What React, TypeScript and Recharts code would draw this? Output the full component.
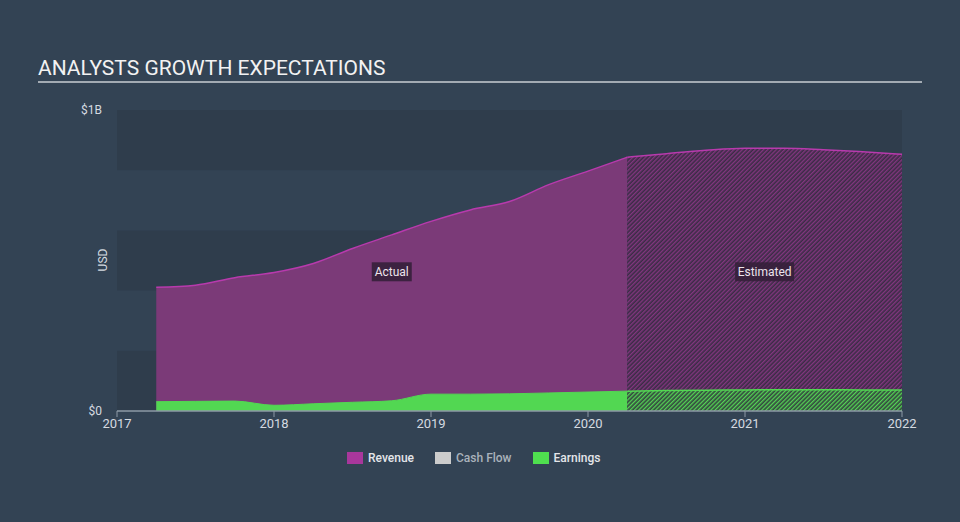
import React from 'react';
import { AreaChart, Area, XAxis, YAxis, ReferenceArea } from 'recharts';

// quarters (decimal years)
const quarters = [
  2017.25, 2017.5, 2017.75, 2018, 2018.25, 2018.5, 2018.75, 2019, 2019.25, 2019.5,
  2019.75, 2020, 2020.25, 2020.5, 2020.75, 2021, 2021.25, 2021.5, 2021.75, 2022,
];

// USD billions
const revenueActual = [
  0.411, 0.418, 0.443, 0.46, 0.49, 0.54, 0.585, 0.63, 0.668, 0.696,
  0.752, 0.797, 0.843, null, null, null, null, null, null, null,
];
const revenueEstimate = [
  null, null, null, null, null, null, null, null, null, null,
  null, null, 0.843, 0.855, 0.866, 0.873, 0.873, 0.868, 0.861, 0.853,
];
const earningsActual = [
  0.031, 0.032, 0.033, 0.019, 0.024, 0.029, 0.034, 0.056, 0.056, 0.057,
  0.06, 0.063, 0.066, null, null, null, null, null, null, null,
];
const earningsEstimate = [
  null, null, null, null, null, null, null, null, null, null,
  null, null, 0.066, 0.068, 0.069, 0.07, 0.071, 0.071, 0.07, 0.07,
];

const yearTicks = [2017, 2018, 2019, 2020, 2021, 2022];
const valueTicks = [0, 1];
const bandRanges = [[0, 0.2], [0.4, 0.6], [0.8, 1]];

const legendItems = [
  { name: 'Revenue', color: '#a8379c', text: '#e4e6ea' },
  { name: 'Cash Flow', color: '#cccccc', text: '#aab2bb' },
  { name: 'Earnings', color: '#4fdf4f', text: '#e4e6ea' },
];

const data = quarters.map((t, i) => ({
  t,
  revA: revenueActual[i],
  revE: revenueEstimate[i],
  earnA: earningsActual[i],
  earnE: earningsEstimate[i],
}));

const PeriodLabel = ({ viewBox, text, w }: any) => {
  const cx = viewBox.x + viewBox.width / 2;
  const cy = viewBox.y + viewBox.height / 2;
  return (
    <g>
      <rect x={cx - w / 2} y={cy - 9.5} width={w} height={19} fill="#35203a" fillOpacity={0.9} />
      <text x={cx} y={cy + 4} textAnchor="middle" fill="#ece4ec" fontSize={12}>
        {text}
      </text>
    </g>
  );
};

export default function App() {
  return (
    <div
      style={{
        position: 'fixed',
        left: 0,
        top: 0,
        width: 960,
        height: 522,
        background: '#334354',
        fontFamily: 'Roboto, sans-serif',
        overflow: 'hidden',
      }}
    >
      <div
        style={{
          position: 'absolute',
          left: 38,
          top: 56,
          fontSize: 21,
          color: '#f2f2f2',
          lineHeight: '25px',
        }}
      >
        ANALYSTS GROWTH EXPECTATIONS
      </div>
      <div style={{ position: 'absolute', left: 38, top: 81, width: 884, height: 2, background: '#a3abb3' }} />
      <div
        style={{
          position: 'absolute',
          left: 103,
          top: 260,
          fontSize: 12,
          color: '#d5dae0',
          transform: 'translate(-50%, -50%) rotate(-90deg)',
        }}
      >
        USD
      </div>

      <AreaChart
        width={960}
        height={522}
        data={data}
        margin={{ top: 110, right: 58, left: 57, bottom: 81 }}
        style={{ position: 'absolute', left: 0, top: 0 }}
      >
        <defs>
          <pattern id="hatchRev" patternUnits="userSpaceOnUse" width="3" height="3" patternTransform="rotate(45)">
            <rect width="3" height="3" fill="#3a2c45" />
            <rect width="1.4" height="3" fill="#82367f" />
          </pattern>
          <pattern id="hatchEarn" patternUnits="userSpaceOnUse" width="3" height="3" patternTransform="rotate(45)">
            <rect width="3" height="3" fill="#34493f" />
            <rect width="1.3" height="3" fill="#55d455" />
          </pattern>
        </defs>
        {bandRanges.map(([a, b]) => (
          <ReferenceArea key={a} y1={a} y2={b} fill="#2f3d4c" fillOpacity={1} stroke="none" />
        ))}
        <XAxis
          dataKey="t"
          type="number"
          domain={[2017, 2022]}
          ticks={yearTicks}
          height={30}
          axisLine={{ stroke: '#8e9aa6', strokeWidth: 1.5 }}
          tickLine={{ stroke: '#8e9aa6' }}
          tick={{ fill: '#d5dae0', fontSize: 13 }}
        />
        <YAxis
          type="number"
          domain={[0, 1]}
          ticks={valueTicks}
          width={60}
          axisLine={false}
          tickLine={false}
          tickMargin={9}
          tick={{ fill: '#d5dae0', fontSize: 12 }}
          tickFormatter={(v: number) => (v === 0 ? '$0' : '$1B')}
        />
        <Area
          type="monotone"
          dataKey="revA"
          stroke="#b83aad"
          strokeWidth={1.5}
          fill="#7b3a78"
          fillOpacity={1}
          isAnimationActive={false}
        />
        <Area
          type="monotone"
          dataKey="revE"
          stroke="#b83aad"
          strokeWidth={1.5}
          fill="url(#hatchRev)"
          fillOpacity={1}
          isAnimationActive={false}
        />
        <Area
          type="monotone"
          dataKey="earnA"
          stroke="#52d752"
          strokeWidth={1}
          fill="#52d752"
          fillOpacity={1}
          isAnimationActive={false}
        />
        <Area
          type="monotone"
          dataKey="earnE"
          stroke="#52d752"
          strokeWidth={1.5}
          fill="url(#hatchEarn)"
          fillOpacity={1}
          isAnimationActive={false}
        />
        <ReferenceArea
          x1={2017.25}
          x2={2020.25}
          y1={0}
          y2={0.925}
          fillOpacity={0}
          stroke="none"
          label={(p: any) => <PeriodLabel viewBox={p.viewBox} text="Actual" w={40} />}
        />
        <ReferenceArea
          x1={2020.25}
          x2={2022}
          y1={0}
          y2={0.925}
          fillOpacity={0}
          stroke="none"
          label={(p: any) => <PeriodLabel viewBox={p.viewBox} text="Estimated" w={59} />}
        />
      </AreaChart>

      <div
        style={{
          position: 'absolute',
          left: 347,
          top: 451,
          display: 'flex',
          alignItems: 'center',
          fontSize: 12,
          fontWeight: 500,
        }}
      >
        {legendItems.map((it) => (
          <div key={it.name} style={{ display: 'flex', alignItems: 'center', marginRight: 21 }}>
            <div style={{ width: 16, height: 12, background: it.color, marginRight: 5 }} />
            <span style={{ color: it.text }}>{it.name}</span>
          </div>
        ))}
      </div>
    </div>
  );
}
